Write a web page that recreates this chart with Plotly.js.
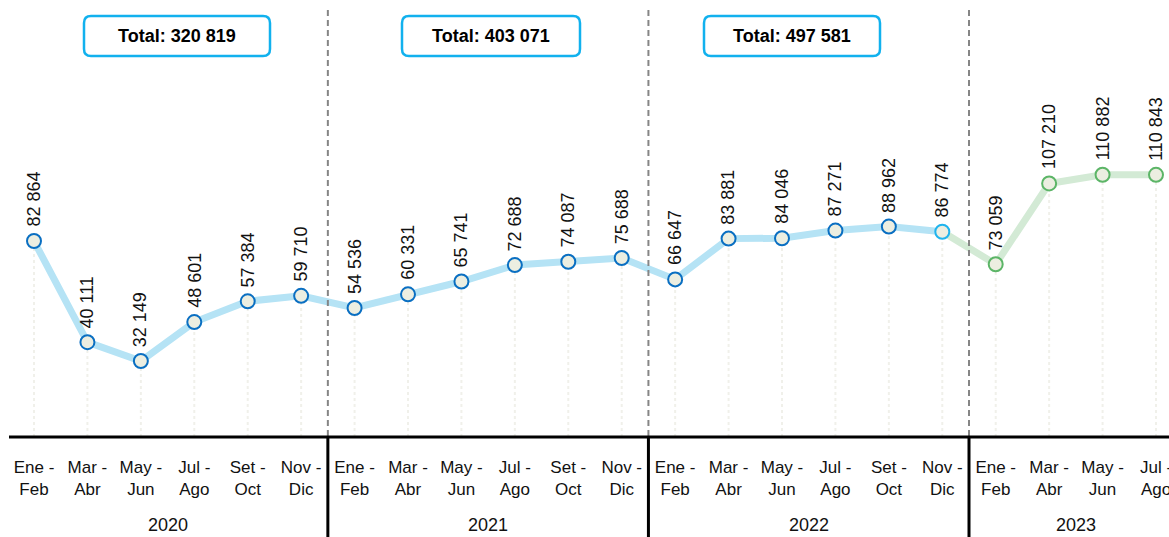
<!DOCTYPE html>
<html>
<head>
<meta charset="utf-8">
<script src="https://cdn.plot.ly/plotly-3.0.1.min.js"></script>
<style>
  html, body { margin: 0; padding: 0; background: #fff; }
  #chart { width: 1169px; height: 537px; }
</style>
</head>
<body>
<div id="chart"></div>
<script>
// bimonthly values, Ene-Feb 2020 .. Jul-Ago 2023
const periods = ["Ene -<br>Feb", "Mar -<br>Abr", "May -<br>Jun", "Jul -<br>Ago", "Set -<br>Oct", "Nov -<br>Dic"];
const years = ["2020", "2021", "2022", "2023"];
const values2020 = [82864, 40111, 32149, 48601, 57384, 59710];
const values2021 = [54536, 60331, 65741, 72688, 74087, 75688];
const values2022 = [66647, 83881, 84046, 87271, 88962, 86774];
const values2023 = [73059, 107210, 110882, 110843];

const allValues = values2020.concat(values2021, values2022, values2023);
const yearOf = [];
[values2020, values2021, values2022, values2023].forEach((arr, i) => arr.forEach(() => yearOf.push(i)));
const xs = allValues.map((v, i) => i);
const tickText = xs.map(i => periods[i % 6]);

const FONT = "Liberation Sans Narrow, Arial Narrow, Liberation Sans, Arial, sans-serif";

function fmt(n) {
  return String(n).replace(/\B(?=(\d{3})+(?!\d))/g, " ");
}

// x range so that point 0 sits at 34px and point 21 at 1156px
const step = (1156 - 34) / 21;
const x0 = -34 / step;
const x1 = x0 + 1169 / step;
const plotH = 437;
const toPaperX = v => (v - x0) / (x1 - x0);

// dotted drop lines
const dropX = [], dropY = [];
allValues.forEach((v, i) => { dropX.push(i, i, null); dropY.push(0, v, null); });

const lastBlue = values2020.length + values2021.length + values2022.length - 1;
const blueX = xs.slice(0, lastBlue + 1);
const blueY = allValues.slice(0, lastBlue + 1);
const greenX = xs.slice(lastBlue);
const greenY = allValues.slice(lastBlue);

const outline = allValues.map((v, i) =>
  yearOf[i] === 3 ? "#5cb567" : (i === lastBlue ? "#1fb4ee" : "#0a6fc2"));

const data = [
  { x: dropX, y: dropY, mode: "lines", line: { color: "#f0f0ea", width: 2, dash: "dot" }, hoverinfo: "skip" },
  { x: blueX, y: blueY, mode: "lines", line: { color: "#b5e3f5", width: 7 } },
  { x: greenX, y: greenY, mode: "lines", line: { color: "#d3ead5", width: 7 } },
  { x: xs, y: allValues, mode: "markers",
    marker: { size: 14, color: "#eceee1", line: { color: outline, width: 2 } } }
];

const shapes = [];
const annotations = [];

// value labels
allValues.forEach((v, i) => {
  annotations.push({
    x: i, y: v, xref: "x", yref: "y", text: fmt(v), showarrow: false,
    textangle: -90, yanchor: "bottom", xanchor: "center", yshift: 12,
    font: { family: FONT, size: 18, color: "#111" }
  });
});

// separators
[5.5, 11.5, 17.5].forEach(s => {
  const px = toPaperX(s);
  shapes.push({ type: "line", xref: "paper", yref: "paper", x0: px, x1: px, y0: 1 - 10 / plotH, y1: 0,
    line: { color: "#858585", width: 2, dash: "6px,4px" }, layer: "above" });
  shapes.push({ type: "line", xref: "paper", yref: "paper", x0: px, x1: px, y0: 0, y1: -100 / plotH,
    line: { color: "#000", width: 3 } });
});

// axis line
shapes.push({ type: "line", xref: "paper", yref: "paper", x0: 9 / 1169, x1: 1, y0: 0, y1: 0,
  line: { color: "#000", width: 3 } });

// year labels
[2.5, 8.5, 14.5, 19.5].forEach((c, i) => {
  annotations.push({ x: c, xref: "x", y: -(525 - plotH) / plotH, yref: "paper", text: years[i],
    showarrow: false, xanchor: "center", yanchor: "middle", font: { family: FONT, size: 18, color: "#111" } });
});

// total boxes
function roundRect(w, h, r) {
  const a = w / 2, b = h / 2;
  return `M ${-a + r},${-b} H ${a - r} Q ${a},${-b} ${a},${-b + r} V ${b - r} Q ${a},${b} ${a - r},${b} ` +
         `H ${-a + r} Q ${-a},${b} ${-a},${b - r} V ${-b + r} Q ${-a},${-b} ${-a + r},${-b} Z`;
}
const boxCenters = [177, 491, 792];
const boxWidths = [186, 178, 176];
[values2020, values2021, values2022].forEach((arr, i) => {
  const total = arr.reduce((s, v) => s + v, 0);
  const cx = boxCenters[i] / 1169;
  const cy = 1 - 36 / plotH;
  shapes.push({ type: "path", xref: "paper", yref: "paper", xsizemode: "pixel", ysizemode: "pixel",
    xanchor: cx, yanchor: cy, path: roundRect(boxWidths[i], 40, 7),
    line: { color: "#11b1ee", width: 2.5 }, fillcolor: "#fff", layer: "above" });
  annotations.push({ x: cx, y: cy, xref: "paper", yref: "paper", xanchor: "center", yanchor: "middle",
    text: "<b>Total: " + fmt(total) + "</b>",
    showarrow: false, font: { family: FONT, size: 18, color: "#000" } });
});

const layout = {
  width: 1169, height: 537,
  margin: { l: 0, r: 0, t: 0, b: 100, pad: 0 },
  paper_bgcolor: "#fff", plot_bgcolor: "#fff",
  showlegend: false,
  xaxis: { range: [x0, x1], tickvals: xs, ticktext: tickText, showgrid: false, zeroline: false,
    showline: false, ticks: "", ticklabelstandoff: 18, ticklabeloverflow: "allow",
    tickfont: { family: FONT, size: 17, color: "#111" }, fixedrange: true },
  yaxis: { range: [0, plotH / 0.002365], visible: false, fixedrange: true },
  shapes: shapes,
  annotations: annotations
};

Plotly.newPlot("chart", data, layout, { displayModeBar: false, staticPlot: true });
</script>
</body>
</html>
